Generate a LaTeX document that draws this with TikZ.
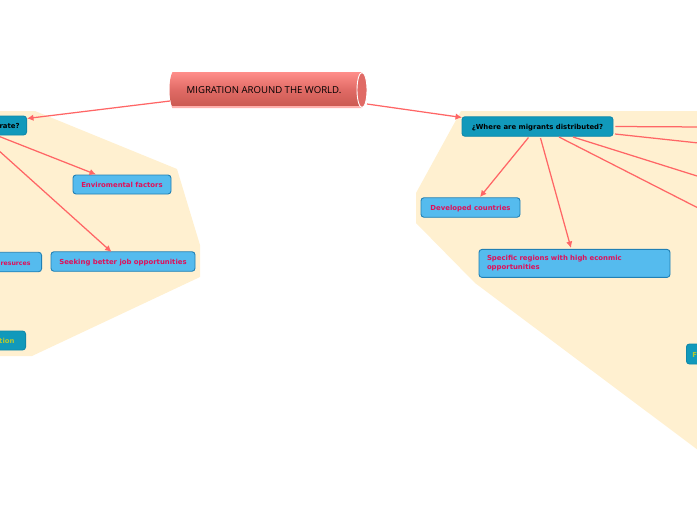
\documentclass[tikz,border=0pt]{standalone}
\usepackage{fontspec}
\setmainfont{DejaVu Sans}
\newfontfamily\titlefont{Open Sans}
\usetikzlibrary{arrows.meta,shapes.geometric}
\definecolor{blobfill}{HTML}{FFF0D0}
\definecolor{lightbox}{HTML}{55BBEE}
\definecolor{lightedge}{HTML}{2080B5}
\definecolor{darkbox}{HTML}{1199BB}
\definecolor{darkedge}{HTML}{1088AA}
\definecolor{pinktext}{HTML}{E0105A}
\definecolor{limetext}{HTML}{B5C832}
\definecolor{linkred}{HTML}{FF6666}
\definecolor{cyltop}{HTML}{FF8E8A}
\definecolor{cylmid}{HTML}{E06A65}
\definecolor{cyllow}{HTML}{C95850}
\tikzset{
  x=1pt,y=-1pt,
  blob/.style={fill=blobfill,draw=none},
  boxbase/.style={rectangle,rounded corners=3pt,line width=0.9pt,inner sep=0pt,font=\bfseries\fontsize{6.9}{9}\selectfont},
  nudge/.style={text height=6.1pt,text depth=0pt},
  lightnode/.style={boxbase,fill=lightbox,draw=lightedge,text=pinktext},
  darknode/.style={boxbase,fill=darkbox,draw=darkedge,text=black},
  link/.style={draw=linkred,line width=1.25pt},
  linkarrow/.style={link,-{Latex[length=6.5pt,width=6.5pt]}},
}
\begin{document}
\begin{tikzpicture}
\useasboundingbox (0,0) rectangle (697,520);
\clip (0,0) rectangle (697,520);
% background regions
\fill[blob] (-5,111) -- (35,111) -- (177,169) -- (200,245) -- (200,277) -- (32,356) -- (-5,356) -- cycle;
\fill[blob] (461,111) -- (702,111) -- (702,453) -- (475,283) -- (416,223) -- (416,193) -- cycle;
% central topic
\path[top color=cyltop,bottom color=cyllow,middle color=cylmid,draw=none]
  (172.5,72) -- (362,72) -- (362,107.5) -- (172.5,107.5) .. controls (168.5,100) and (168.5,79) .. (172.5,72) -- cycle;
\fill[cyltop!70!white] (171.5,106) -- (362,106) -- (362,108) -- (172.5,108) -- cycle;
\fill[cylmid,draw=white,line width=0.9pt] (362,90) ellipse [x radius=5,y radius=17.5];
\node[font=\titlefont\fontsize{9.6}{11}\selectfont,text=black,inner sep=0pt] (root) at (264,90.3) {MIGRATION AROUND THE WORLD.};
\coordinate (rootL) at (170,101);
\coordinate (rootR) at (367,104);
% boxes
\node[darknode,nudge,minimum width=85pt,minimum height=19pt,text width=71pt,align=right,anchor=east] (why) at (27,125.5) {rate?};
\node[lightnode,nudge,minimum width=98pt,minimum height=19pt] (env) at (122,184.5) {Enviromental factors};
\node[lightnode,nudge,minimum width=144pt,minimum height=19.5pt] (job) at (123,261.5) {Seeking better job opportunities};
\node[lightnode,nudge,font=\bfseries\fontsize{6.2}{9}\selectfont,minimum width=85pt,minimum height=19.5pt,text width=63pt,align=right,anchor=east] (res) at (42,262) {resurces};
\node[darknode,nudge,text=limetext,minimum width=85pt,minimum height=19pt,text width=63pt,align=right,anchor=east] (tion) at (26,340.5) {tion};
\node[darknode,nudge,minimum width=151pt,minimum height=19.5pt] (where) at (537.5,126.5) {¿Where are migrants distributed?};
\node[lightnode,nudge,minimum width=99pt,minimum height=19.5pt] (dev) at (470.5,207.5) {Developed countries};
\node[lightnode,minimum width=191pt,minimum height=28pt,text width=175pt,align=left] (spec) at (574.5,263.4) {Specific regions with high econmic\\opportunities};
\node[darknode,nudge,text=limetext,minimum width=40pt,minimum height=20pt,text width=28pt,align=left,anchor=west] (far) at (686,354) {F};
% free ends beyond the page
\coordinate (whyA) at (-10,132.8);
\coordinate (whyB) at (-10,142.7);
\coordinate (offA) at (705,127);
\coordinate (offB) at (705,143.7);
\coordinate (offC) at (705,178.5);
\coordinate (offD) at (705,211.5);
% connectors
\draw[linkarrow] (rootL) -- (why.north east |- 0,118.5);
\draw[linkarrow] (rootR) -- (462,117.5);
\draw[linkarrow] (whyA) -- (96,174.5);
\draw[linkarrow] (whyB) -- (111.5,252);
\draw[linkarrow] (528.5,137.5) -- (480,197);
\draw[linkarrow] (540.5,138) -- (571,248);
\draw[link] (where.east) ++(2,0) -- (offA);
\draw[link] (615,134) -- (offB);
\draw[link] (573,137) -- (offC);
\draw[link] (559,137) -- (offD);
\end{tikzpicture}
\end{document}
